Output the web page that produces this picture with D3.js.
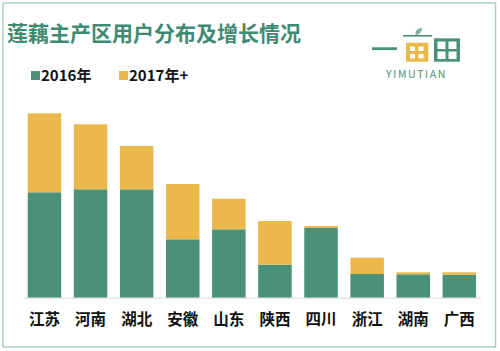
<!DOCTYPE html>
<html>
<head>
<meta charset="utf-8">
<script src="https://cdn.jsdelivr.net/npm/d3@7"></script>
<style>
  body { margin: 0; background: #fff; }
  svg text { font-family: "Noto Sans CJK SC", "Noto Sans", sans-serif; }
</style>
</head>
<body>
<div id="chart"></div>
<script>
/* DATA */
const provinces = ["江苏", "河南", "湖北", "安徽", "山东", "陕西", "四川", "浙江", "湖南", "广西"];
const users2016 = [105.4, 108.4, 108.4, 58.4, 68.4, 33, 69.7, 23.7, 23.4, 23];
const users2017 = [79, 65, 43.3, 55.3, 30.6, 43.7, 2, 16.3, 2, 2.4];
const seriesNames = ["2016年", "2017年+"];

const width = 500, height = 351;
const green = "#4b917a", yellow = "#ebb84b";
const colors = d3.scaleOrdinal().domain(seriesNames).range([green, yellow]);

const svg = d3.select("#chart").append("svg")
  .attr("width", width)
  .attr("height", height);

// outer frame
svg.append("rect")
  .attr("x", 3).attr("y", 3)
  .attr("width", 492.5).attr("height", 344)
  .attr("fill", "none")
  .attr("stroke", "#a9cfc3")
  .attr("stroke-width", 1.5);

// title
svg.append("text")
  .attr("x", 7).attr("y", 41)
  .attr("font-size", 21)
  .attr("font-weight", "bold")
  .attr("fill", "#3f8a73")
  .text("莲藕主产区用户分布及增长情况");

// legend
const legend = svg.selectAll(".legend")
  .data(seriesNames)
  .join("g")
  .attr("class", "legend")
  .attr("transform", (d, i) => `translate(${[31, 119][i]},71)`);
legend.append("rect")
  .attr("width", 9).attr("height", 9)
  .attr("fill", d => colors(d));
legend.append("text")
  .attr("x", 10).attr("y", 9.5)
  .attr("font-size", 15)
  .attr("font-weight", "bold")
  .attr("fill", "#111")
  .text(d => d);

// logo
const logo = svg.append("g");
logo.append("rect").attr("x", 372).attr("y", 47.3).attr("width", 25).attr("height", 2.8).attr("fill", green);
logo.append("rect").attr("x", 403).attr("y", 35).attr("width", 29).attr("height", 1.6).attr("fill", green);
logo.append("path")
  .attr("d", "M415.5,35 C415,30 418,28 422,28 C422,32 419,35 415.5,35 Z")
  .attr("fill", "#7fb49a");
logo.append("rect").attr("x", 406).attr("y", 42.7).attr("width", 22.3).attr("height", 19).attr("fill", yellow);
[[410, 46.5], [418.5, 46.5], [410, 54], [418.5, 54]].forEach(([x, y]) =>
  logo.append("rect").attr("x", x).attr("y", y).attr("width", 5).attr("height", 4.5).attr("fill", "#fff"));
logo.append("rect").attr("x", 434).attr("y", 38.3).attr("width", 26).attr("height", 23.4).attr("fill", green);
[[437.5, 41.5], [448.5, 41.5], [437.5, 51.5], [448.5, 51.5]].forEach(([x, y]) =>
  logo.append("rect").attr("x", x).attr("y", y).attr("width", 8).attr("height", 7.5).attr("fill", "#fff"));
logo.append("text")
  .attr("x", 416.5).attr("y", 77.5)
  .attr("text-anchor", "middle")
  .attr("font-size", 10.5)
  .attr("letter-spacing", 1.6)
  .attr("fill", green)
  .attr("font-family", "DejaVu Sans")
  .text("YIMUTIAN");

/* SCALES */
const xScale = d3.scaleBand()
  .domain(provinces)
  .range([23.1, 480.7])
  .paddingInner(0.273)
  .paddingOuter(0.1);

const yScale = d3.scaleLinear()
  .domain([0, 184.4])
  .range([297.7, 113.3]);

const stacked = d3.stack().keys(seriesNames)(
  provinces.map((p, i) => ({ province: p, "2016年": users2016[i], "2017年+": users2017[i] }))
);

/* BARS */
svg.append("g")
  .selectAll("g")
  .data(stacked)
  .join("g")
  .attr("fill", d => colors(d.key))
  .selectAll("rect")
  .data(d => d)
  .join("rect")
  .attr("x", d => xScale(d.data.province))
  .attr("width", xScale.bandwidth())
  .attr("y", d => yScale(d[1]))
  .attr("height", d => yScale(d[0]) - yScale(d[1]));

/* AXIS */
const xAxis = d3.axisBottom(xScale).tickSize(0).tickPadding(16);
const ax = svg.append("g")
  .attr("transform", `translate(0,${yScale(0)})`)
  .call(xAxis);
ax.select(".domain").attr("stroke", "#d9d9d9").attr("stroke-width", 1);
ax.selectAll("text")
  .attr("font-size", 15.5)
  .attr("font-weight", "bold")
  .attr("fill", "#111")
  .attr("font-family", "\"Noto Sans CJK SC\", sans-serif");
</script>
</body>
</html>
